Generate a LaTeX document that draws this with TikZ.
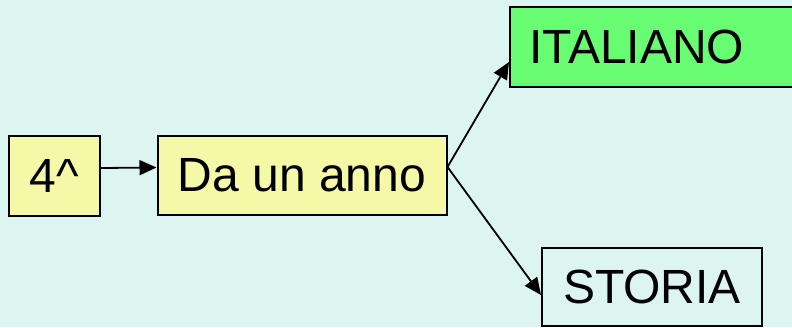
\documentclass[tikz,border=0pt]{standalone}
\usepackage{fontspec}
\setmainfont{Liberation Sans}
\usetikzlibrary{arrows.meta}
\definecolor{bgc}{HTML}{DDF5F0}
\definecolor{yel}{HTML}{F5F8A6}
\definecolor{grn}{HTML}{68FC72}
\begin{document}
\begin{tikzpicture}[x=1pt,y=-1pt,
  box/.style={draw=black,line width=2pt,inner sep=0pt,font=\fontsize{48}{58}\selectfont},
  arr/.style={line width=1.8pt,-{Triangle[length=17pt,width=15pt]}}]
\fill[bgc] (0,0) rectangle (792,327);
\useasboundingbox (0,0) rectangle (792,327);
\node[box,fill=yel,minimum width=91pt,minimum height=80pt] (n4) at (54.5,176) {4\^{}};
\node[box,fill=yel,minimum width=289pt,minimum height=79pt] (da) at (302,175.5) {Da un anno};
\node[box,fill=grn,anchor=west,minimum height=80pt,text width=262pt,inner xsep=19pt,align=left] (it) at (509,47) {ITALIANO};
\node[box,fill=bgc,minimum width=220pt,minimum height=78pt] (st) at (652,287) {STORIA};
\draw[arr] ([yshift=8pt]n4.east) -- ([yshift=8pt]da.west);
\draw[arr] ([yshift=8.5pt]da.east) -- ([yshift=-15pt]it.west);
\draw[arr] ([yshift=8.5pt]da.east) -- ([yshift=-8pt]st.west);
\end{tikzpicture}
\end{document}
